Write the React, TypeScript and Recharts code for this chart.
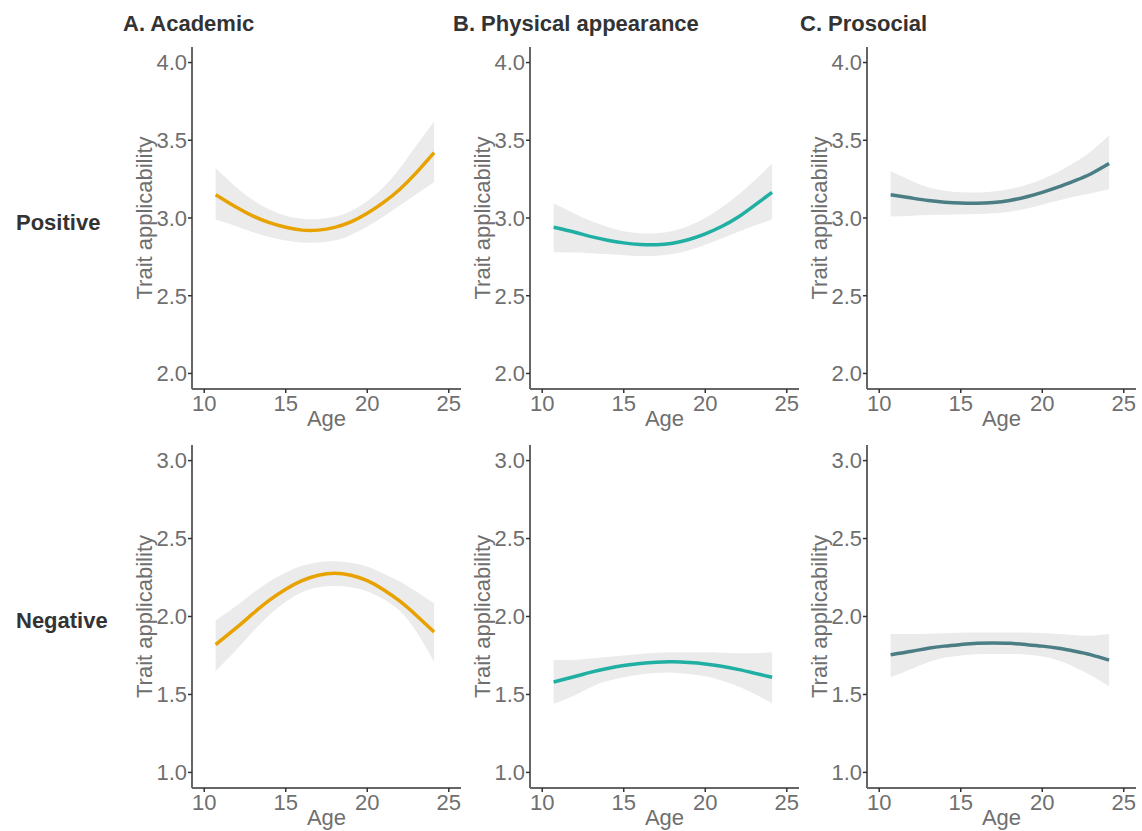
import { ComposedChart, Area, Line, XAxis, YAxis } from 'recharts';

// ages at which the fitted curves were read
const ages = [10.7, 12, 13, 14, 15, 16, 17, 18, 19, 20, 21, 22, 23, 24.1];

const ageTicks = [10, 15, 20, 25];
const posTicks = [2.0, 2.5, 3.0, 3.5, 4.0];
const negTicks = [1.0, 1.5, 2.0, 2.5, 3.0];

const panelTitles = ['A. Academic', 'B. Physical appearance', 'C. Prosocial'];
const rowLabels = ['Positive', 'Negative'];

// Positive row
const academicPosFit = [3.15, 3.067, 3.012, 2.97, 2.94, 2.922, 2.922, 2.94, 2.975, 3.03, 3.1, 3.185, 3.29, 3.42];
const academicPosLo = [2.99, 2.945, 2.908, 2.877, 2.855, 2.843, 2.842, 2.855, 2.89, 2.945, 3.01, 3.08, 3.153, 3.23];
const academicPosHi = [3.32, 3.195, 3.115, 3.055, 3.015, 2.995, 2.993, 3.008, 3.045, 3.11, 3.2, 3.32, 3.465, 3.62];

const physicalPosFit = [2.94, 2.908, 2.88, 2.857, 2.84, 2.83, 2.828, 2.838, 2.862, 2.898, 2.945, 3.005, 3.08, 3.165];
const physicalPosLo = [2.78, 2.778, 2.774, 2.768, 2.761, 2.756, 2.757, 2.768, 2.792, 2.828, 2.868, 2.91, 2.95, 2.99];
const physicalPosHi = [3.095, 3.028, 2.98, 2.942, 2.915, 2.902, 2.902, 2.917, 2.95, 3.0, 3.068, 3.148, 3.24, 3.35];

const prosocialPosFit = [3.15, 3.128, 3.112, 3.102, 3.096, 3.095, 3.1, 3.113, 3.135, 3.165, 3.2, 3.24, 3.285, 3.35];
const prosocialPosLo = [3.01, 3.015, 3.02, 3.021, 3.024, 3.026, 3.031, 3.041, 3.06, 3.085, 3.112, 3.138, 3.16, 3.185];
const prosocialPosHi = [3.3, 3.238, 3.198, 3.176, 3.166, 3.164, 3.17, 3.186, 3.212, 3.25, 3.298, 3.358, 3.43, 3.53];

// Negative row
const academicNegFit = [1.82, 1.93, 2.02, 2.105, 2.175, 2.23, 2.265, 2.278, 2.265, 2.23, 2.172, 2.098, 2.008, 1.9];
const academicNegLo = [1.65, 1.79, 1.905, 2.01, 2.095, 2.155, 2.187, 2.196, 2.187, 2.16, 2.11, 2.035, 1.905, 1.71];
const academicNegHi = [1.975, 2.07, 2.152, 2.225, 2.283, 2.325, 2.348, 2.354, 2.345, 2.32, 2.275, 2.225, 2.16, 2.085];

const physicalNegFit = [1.58, 1.615, 1.643, 1.667, 1.686, 1.699, 1.707, 1.709, 1.705, 1.696, 1.681, 1.661, 1.637, 1.61];
const physicalNegLo = [1.44, 1.495, 1.548, 1.586, 1.61, 1.628, 1.637, 1.64, 1.632, 1.616, 1.59, 1.553, 1.505, 1.445];
const physicalNegHi = [1.72, 1.722, 1.73, 1.74, 1.75, 1.76, 1.767, 1.77, 1.77, 1.77, 1.768, 1.765, 1.765, 1.77];

const prosocialNegFit = [1.755, 1.777, 1.796, 1.81, 1.82, 1.828, 1.83, 1.828, 1.82, 1.81, 1.796, 1.777, 1.754, 1.72];
const prosocialNegLo = [1.61, 1.665, 1.707, 1.735, 1.75, 1.758, 1.76, 1.76, 1.756, 1.743, 1.718, 1.675, 1.622, 1.552];
const prosocialNegHi = [1.888, 1.888, 1.889, 1.893, 1.896, 1.898, 1.898, 1.898, 1.897, 1.894, 1.888, 1.88, 1.877, 1.888];

const ORANGE = '#E8A200';
const TEAL = '#1FAFA3';
const SLATE = '#4A7E84';
const BAND = '#EBEBEB';
const TEXT_GRAY = '#6F6F6F';
const AXIS_GRAY = '#666666';
const FONT = '"Liberation Sans", Arial, sans-serif';

const Y_AXIS_W = 70;
const PLOT_W = 269;

type PanelProps = {
  left: number;
  top: number;
  plotH: number;
  domain: [number, number];
  ticks: number[];
  fit: number[];
  lo: number[];
  hi: number[];
  color: string;
};

const Panel = ({ left, top, plotH, domain, ticks, fit, lo, hi, color }: PanelProps) => {
  const data = ages.map((age, i) => ({ age, fit: fit[i], band: [lo[i], hi[i]] }));
  return (
    <div style={{ position: 'absolute', left: left - Y_AXIS_W, top: top - 5 }}>
      <ComposedChart
        width={Y_AXIS_W + PLOT_W + 5}
        height={5 + plotH + 20 + 30}
        data={data}
        margin={{ top: 5, right: 5, left: 0, bottom: 30 }}
      >
        <XAxis
          type="number"
          dataKey="age"
          domain={[9.25, 25.75]}
          ticks={ageTicks}
          allowDataOverflow
          height={20}
          tickSize={4}
          tickMargin={2}
          axisLine={{ stroke: AXIS_GRAY, strokeWidth: 2 }}
          tickLine={{ stroke: '#333', strokeWidth: 1.5 }}
          tick={{ fill: TEXT_GRAY, fontSize: 22 }}
          label={{ value: 'Age', position: 'bottom', offset: 1, fill: TEXT_GRAY, fontSize: 22 }}
        />
        <YAxis
          type="number"
          domain={domain}
          ticks={ticks}
          allowDataOverflow
          width={Y_AXIS_W}
          tickSize={4}
          tickMargin={1}
          tickFormatter={(v: number) => v.toFixed(1)}
          axisLine={{ stroke: AXIS_GRAY, strokeWidth: 2 }}
          tickLine={{ stroke: '#333', strokeWidth: 1.5 }}
          tick={{ fill: TEXT_GRAY, fontSize: 22 }}
          label={{
            value: 'Trait applicability',
            angle: -90,
            position: 'insideLeft',
            offset: 22,
            fill: TEXT_GRAY,
            fontSize: 22,
            style: { textAnchor: 'middle' },
          }}
        />
        <Area
          dataKey="band"
          type="natural"
          stroke="none"
          fill={BAND}
          fillOpacity={1}
          isAnimationActive={false}
        />
        <Line
          dataKey="fit"
          type="natural"
          stroke={color}
          strokeWidth={3.5}
          dot={false}
          isAnimationActive={false}
        />
      </ComposedChart>
    </div>
  );
};

const axisXs = [192, 530, 867];
const titleXs = [123, 453, 800];

export default function App() {
  return (
    <div
      style={{
        position: 'absolute',
        left: 0,
        top: 0,
        width: 1142,
        height: 831,
        overflow: 'hidden',
        background: '#fff',
        fontFamily: FONT,
      }}
    >
      <svg width={1142} height={831} style={{ position: 'absolute', left: 0, top: 0 }}>
        {panelTitles.map((t, i) => (
          <text key={t} x={titleXs[i]} y={31} fontSize={22} fontWeight="bold" fill="#333" fontFamily={FONT}>
            {t}
          </text>
        ))}
        <text x={16} y={230} fontSize={22} fontWeight="bold" fill="#333" fontFamily={FONT}>
          {rowLabels[0]}
        </text>
        <text x={16} y={628} fontSize={22} fontWeight="bold" fill="#333" fontFamily={FONT}>
          {rowLabels[1]}
        </text>
      </svg>

      <Panel left={axisXs[0]} top={47} plotH={342} domain={[1.9, 4.1]} ticks={posTicks}
        fit={academicPosFit} lo={academicPosLo} hi={academicPosHi} color={ORANGE} />
      <Panel left={axisXs[1]} top={47} plotH={342} domain={[1.9, 4.1]} ticks={posTicks}
        fit={physicalPosFit} lo={physicalPosLo} hi={physicalPosHi} color={TEAL} />
      <Panel left={axisXs[2]} top={47} plotH={342} domain={[1.9, 4.1]} ticks={posTicks}
        fit={prosocialPosFit} lo={prosocialPosLo} hi={prosocialPosHi} color={SLATE} />

      <Panel left={axisXs[0]} top={445} plotH={343} domain={[0.9, 3.1]} ticks={negTicks}
        fit={academicNegFit} lo={academicNegLo} hi={academicNegHi} color={ORANGE} />
      <Panel left={axisXs[1]} top={445} plotH={343} domain={[0.9, 3.1]} ticks={negTicks}
        fit={physicalNegFit} lo={physicalNegLo} hi={physicalNegHi} color={TEAL} />
      <Panel left={axisXs[2]} top={445} plotH={343} domain={[0.9, 3.1]} ticks={negTicks}
        fit={prosocialNegFit} lo={prosocialNegLo} hi={prosocialNegHi} color={SLATE} />
    </div>
  );
}
